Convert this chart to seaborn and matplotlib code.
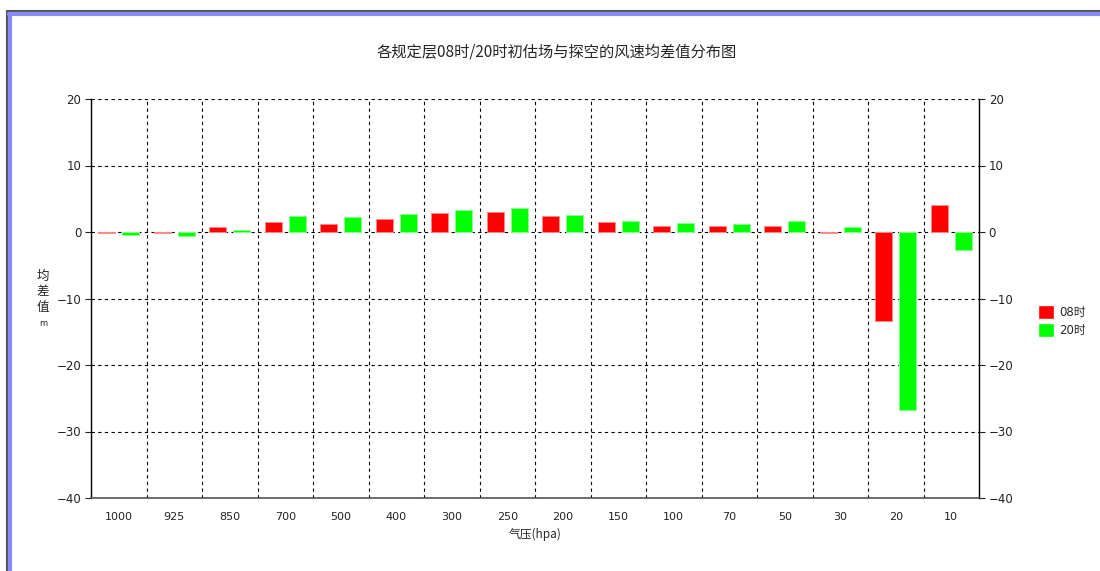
import matplotlib
matplotlib.use("Agg")
import matplotlib.pyplot as plt
from matplotlib.lines import Line2D
import seaborn as sns
import pandas as pd
import numpy as np

# pressure levels and wind speed mean differences
levels = ['1000', '925', '850', '700', '500', '400', '300', '250',
          '200', '150', '100', '70', '50', '30', '20', '10']
diff_08 = [-0.2, -0.1, 0.75, 1.55, 1.25, 1.9, 2.9, 3.05,
           2.45, 1.45, 0.95, 0.95, 0.95, -0.2, -13.45, 4.1]
diff_20 = [-0.45, -0.55, 0.3, 2.4, 2.25, 2.75, 3.25, 3.55,
           2.6, 1.6, 1.3, 1.15, 1.6, 0.8, -26.7, -2.65]
series = ['08时', '20时']
colors = {'08时': '#ff0000', '20时': '#00ff00'}
yticks = [20, 10, 0, -10, -20, -30, -40]

df = pd.DataFrame({
    'level': levels * 2,
    'value': diff_08 + diff_20,
    'series': [series[0]] * len(levels) + [series[1]] * len(levels),
})

sns.set_style('white')
plt.rcParams['font.family'] = ['DejaVu Sans', 'Noto Sans CJK SC']

fig = plt.figure(figsize=(11, 5.71), dpi=100)
ax = fig.add_axes([91 / 1100, 1 - 498 / 571, (979 - 91) / 1100, (498 - 99) / 571])

sns.barplot(data=df, x='level', y='value', hue='series', order=levels,
            hue_order=series, palette=colors, width=0.86, gap=0.28,
            ax=ax, errorbar=None, saturation=1)

for bars, c in zip(ax.containers, ['#ff8a8a', '#8aff8a']):
    for b in bars:
        b.set_edgecolor(c)
        b.set_linewidth(0.7)

ax.set_xlim(-0.5, len(levels) - 0.5)
ax.set_ylim(-40, 20)
ax.set_yticks(yticks)

# labels centred on categories, boundaries as minor ticks/grid
ax.set_xticks(range(len(levels)))
ax.set_xticklabels(levels)
ax.set_xticks(np.arange(-0.5, len(levels)), minor=True)
ax.tick_params(axis='x', which='major', length=0, labelsize=8, pad=10, colors='#222222')
ax.tick_params(axis='x', which='minor', length=10, width=1, direction='out', color='black')
ax.tick_params(axis='y', left=True, right=True, labelleft=True, labelright=True,
               length=4, width=0.8, labelsize=8.5, pad=3, colors='#222222')

ax.grid(True, axis='y', which='major', linestyle=(0, (3, 3)), color='black', linewidth=0.8)
ax.grid(True, axis='x', which='minor', linestyle=(0, (3, 3)), color='black', linewidth=0.8)
ax.set_axisbelow(True)

for side in ['left', 'right']:
    ax.spines[side].set_color('black')
    ax.spines[side].set_linewidth(1)
ax.spines['bottom'].set_color('#555555')
ax.spines['bottom'].set_linewidth(1.2)
ax.spines['top'].set_visible(False)

ax.set_xlabel('气压(hpa)', fontsize=8.5, family=['Noto Sans CJK SC'], labelpad=4)
ax.set_ylabel('')

fig.text(0.506, 1 - 52 / 571, '各规定层08时/20时初估场与探空的风速均差值分布图',
         ha='center', va='center', fontsize=11, family=['Noto Sans CJK SC', 'DejaVu Sans'])
fig.text(43 / 1100, 1 - 292 / 571, '均\n差\n值', ha='center', va='center',
         fontsize=9, linespacing=1.25, family=['Noto Sans CJK SC'])
fig.text(43 / 1100, 1 - 323 / 571, 'm', ha='center', va='center', fontsize=6)

ax.legend(loc='center left', bbox_to_anchor=(1032 / 1100, 1 - 321 / 571),
          bbox_transform=fig.transFigure, frameon=False, fontsize=8.5,
          handlelength=1.4, handleheight=1.4, handletextpad=0.4, labelspacing=0.35,
          borderpad=0)

# window frame: dark outer line with a light blue inner band
fig.add_artist(Line2D([7 / 1100, 7 / 1100], [0, 1 - 11 / 571], color='#555555', lw=1.5,
                      transform=fig.transFigure))
fig.add_artist(Line2D([7 / 1100, 1], [1 - 11 / 571, 1 - 11 / 571], color='#555555', lw=1.5,
                      transform=fig.transFigure))
fig.add_artist(Line2D([10 / 1100, 10 / 1100], [0, 1 - 14 / 571], color='#8888ff', lw=3,
                      transform=fig.transFigure))
fig.add_artist(Line2D([9 / 1100, 1], [1 - 14 / 571, 1 - 14 / 571], color='#8888ff', lw=3,
                      transform=fig.transFigure))

fig.savefig('out.png', dpi=100)
